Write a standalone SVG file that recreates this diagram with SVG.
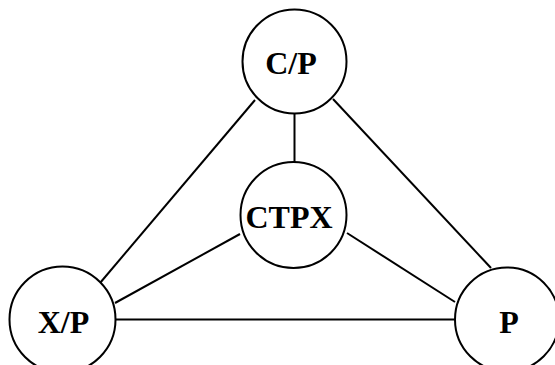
<svg xmlns="http://www.w3.org/2000/svg" width="555" height="365" viewBox="0 0 555 365">
<style>
.node circle{fill:#fff;stroke:#000;stroke-width:2}
.node text{font-family:"Liberation Serif","Times New Roman",serif;font-weight:bold;font-size:32px;text-anchor:middle;fill:#000}
#connectors line{stroke:#000;stroke-width:2}
</style>
<rect width="555" height="365" fill="#fff"/>
<g id="connectors">
<line x1="294.5" y1="113" x2="294.5" y2="163"/>
<line x1="255" y1="100" x2="100" y2="283"/>
<line x1="333" y1="99" x2="491" y2="268"/>
<line x1="240" y1="234" x2="115" y2="303"/>
<line x1="347" y1="233" x2="455" y2="302"/>
<line x1="116" y1="319.5" x2="455" y2="319.5"/>
</g>
<g id="node-cp" class="node">
<circle cx="294.5" cy="61.5" r="52"/>
<text x="291" y="74">C/P</text>
</g>
<g id="node-ctpx" class="node">
<circle cx="293.5" cy="215" r="53"/>
<text x="289" y="228">CTPX</text>
</g>
<g id="node-xp" class="node">
<circle cx="62.5" cy="319.5" r="53"/>
<text x="63.5" y="333">X/P</text>
</g>
<g id="node-p" class="node">
<circle cx="507" cy="319.5" r="52"/>
<text x="509" y="333">P</text>
</g>
</svg>
